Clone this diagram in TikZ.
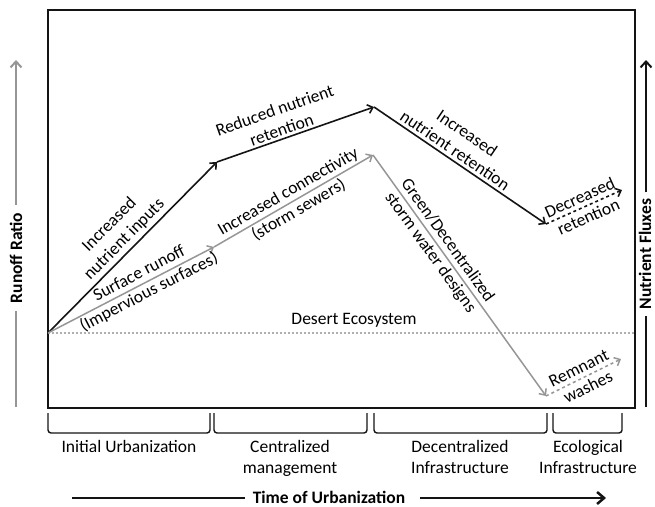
\documentclass[tikz,border=0pt]{standalone}
\usepackage{fontspec}
\setmainfont{Carlito}
\usetikzlibrary{arrows.meta}
\definecolor{arrgray}{RGB}{150,150,150}
\definecolor{dotgray}{RGB}{175,175,175}
\definecolor{lineblk}{RGB}{20,20,20}
\begin{document}
\begin{tikzpicture}[x=1pt,y=1pt,
  font=\fontsize{17.5}{21}\selectfont,
  tip/.style={-{Straight Barb[length=5pt,width=9pt]}},
  blk/.style={draw=lineblk, line width=1.6pt, tip},
  gry/.style={draw=arrgray, line width=1.5pt, tip},
  lab/.style={sloped, align=center, inner sep=1pt},
  brk/.style={draw=lineblk, line width=1.4pt, rounded corners=3pt},
  axlab/.style={rotate=90, font=\fontsize{17.5}{21}\selectfont\bfseries},
  catlab/.style={align=center, anchor=north, inner sep=0pt}]
\useasboundingbox (0,0) rectangle (655,506);

% frame
\draw[line width=2pt, draw=lineblk] (48,98) rectangle (635,496);

% desert baseline
\draw[draw=dotgray, line width=1.2pt, dash pattern=on 2pt off 2pt] (48,173) -- (635,173);
\node (desert) at (354,186) {Desert Ecosystem};

% key points
\coordinate (O)  at (48,173);
\coordinate (B1) at (217,344);
\coordinate (B2) at (374,399);
\coordinate (B3) at (546,282);
\coordinate (B4) at (622,316);
\coordinate (G1) at (214,259);
\coordinate (G2) at (373,351);
\coordinate (G3) at (546,110);
\coordinate (G4) at (621,147);

% nutrient (black) path
\draw[blk] (O) -- (B1) node[lab, pos=0.5, above, inner sep=3pt] (l1) {Increased\\nutrient inputs};
\draw[blk] (B1) -- (B2) node[lab, pos=0.43, above, inner sep=2pt] (l2) {Reduced nutrient\\retention};
\draw[blk] (B2) -- (B3) node[lab, pos=0.44, above, inner sep=3pt] (l3) {Increased\\nutrient retention};
\draw[blk, dashed] (B3) -- (B4) node[lab, pos=0.5, inner sep=0pt] (l4) {Decreased\\retention};

% runoff (gray) path
\draw[gry] (O) -- (G1) node[lab, pos=0.58, inner sep=0pt] (g1) {Surface runoff\\(Impervious surfaces)};
\draw[gry] (G1) -- (G2) node[lab, pos=0.5, inner sep=0pt] (g2) {Increased connectivity\\(storm sewers)};
\draw[gry] (G2) -- (G3) node[lab, pos=0.38, inner sep=0pt] (g3) {Green/Decentralized\\storm water designs};
\draw[gry, dashed] (G3) -- (G4) node[lab, pos=0.5, inner sep=0pt] (g4) {Remnant\\washes};

% left axis
\node[axlab, inner sep=8pt] (rr) at (16,248) {Runoff Ratio};
\coordinate (rrb) at (16,99);
\coordinate (rrt) at (16,446);
\draw[draw=arrgray, line width=2pt] (rrb) -- (rr.west);
\draw[draw=arrgray, line width=2pt, -{Straight Barb[length=6pt,width=11pt]}] (rr.east) -- (rrt);

% right axis
\node[axlab, inner sep=6pt] (nf) at (645,252) {Nutrient Fluxes};
\coordinate (nfb) at (646,99);
\coordinate (nft) at (646,446);
\draw[draw=lineblk, line width=2pt] (nfb) -- (nfb |- nf.west);
\draw[draw=lineblk, line width=2pt, -{Straight Barb[length=6pt,width=11pt]}] (nfb |- nf.east) -- (nft);

% brackets
\draw[brk] (48,93) -- (48,73) -- (210,73) -- (210,93);
\draw[brk] (214,93) -- (214,73) -- (367,73) -- (367,93);
\draw[brk] (374,93) -- (374,73) -- (547,73) -- (547,93);
\draw[brk] (553,93) -- (553,73) -- (622,73) -- (622,93);

\node[catlab] (c1) at (129,66) {Initial Urbanization};
\node[catlab] (c2) at (290,66) {Centralized\\management};
\node[catlab] (c3) at (460,66) {Decentralized\\Infrastructure};
\node[catlab] (c4) at (588,66) {Ecological\\Infrastructure};

% time axis
\node[font=\fontsize{17.5}{21}\selectfont\bfseries, inner sep=0pt] (tu) at (329,9) {Time of Urbanization};
\coordinate (tl) at (72,8);
\coordinate (tlb) at (245,8);
\coordinate (trb) at (420,8);
\coordinate (tr) at (606,8);
\draw[draw=lineblk, line width=2.5pt] (tl) -- (tlb);
\draw[draw=lineblk, line width=2.5pt, -{Straight Barb[length=7pt,width=12pt]}] (trb) -- (tr);
\end{tikzpicture}
\end{document}
